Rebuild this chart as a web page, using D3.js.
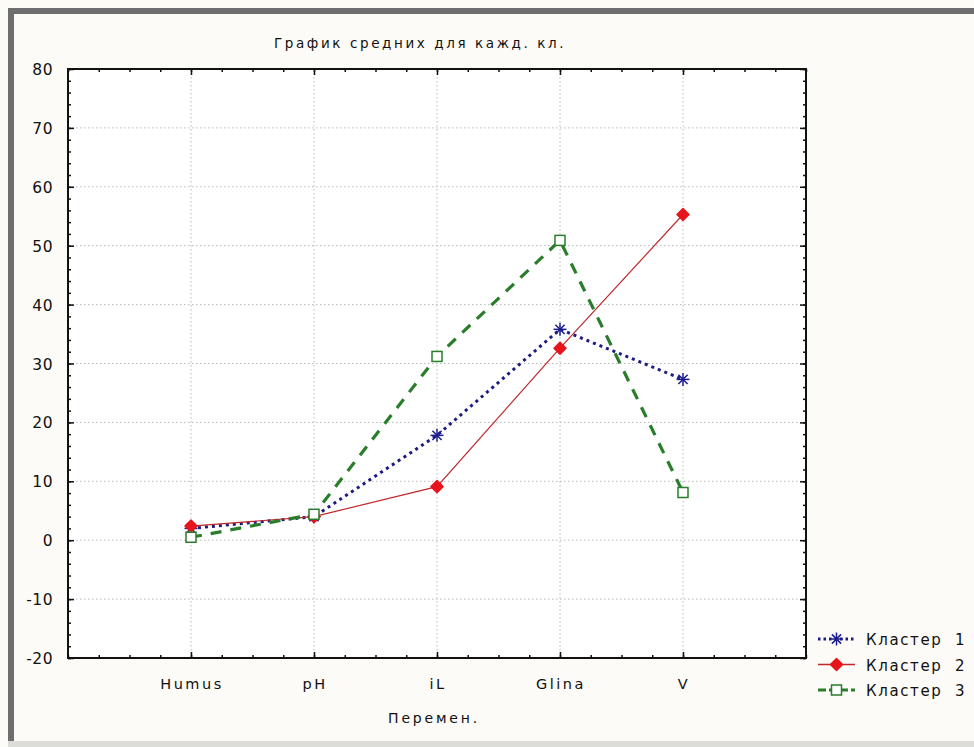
<!DOCTYPE html>
<html>
<head>
    <meta charset="utf-8">
    <title>График средних</title>
    <script src="https://d3js.org/d3.v7.min.js"></script>
    <style>
        body { margin: 0; background: #fcfbf7; }
        text { font-family: "DejaVu Sans", sans-serif; fill: #111; }
    </style>
</head>
<body>
    <div id="chart"></div>

    <script>
        // Values
        const variables = ["Humus", "pH", "iL", "Glina", "V"];
        const cluster1 = [2.0, 4.0, 17.8, 35.8, 27.3];
        const cluster2 = [2.4, 4.0, 9.1, 32.6, 55.3];
        const cluster3 = [0.5, 4.4, 31.2, 50.9, 8.1];
        const seriesNames = ["Кластер  1", "Кластер  2", "Кластер  3"];
        const yTicks = [-20, -10, 0, 10, 20, 30, 40, 50, 60, 70, 80];

        const width = 974, height = 747;
        const margin = {left: 68, top: 69, right: 168, bottom: 89};

        const svg = d3.select("#chart").append("svg")
            .attr("width", width)
            .attr("height", height);

        // window frame
        svg.append("rect").attr("x", 0).attr("y", 0).attr("width", width).attr("height", height)
            .attr("fill", "#fcfbf7");
        svg.append("rect").attr("x", 8).attr("y", 8).attr("width", width - 8).attr("height", 6)
            .attr("fill", "#6e6e6e");
        svg.append("rect").attr("x", 8).attr("y", 8).attr("width", 6).attr("height", height - 14)
            .attr("fill", "#6e6e6e");
        svg.append("rect").attr("x", 8).attr("y", 741).attr("width", width - 8).attr("height", 6)
            .attr("fill", "#dcdcd8");

        const x = d3.scaleLinear().domain([0, variables.length + 1])
            .range([margin.left, width - margin.right]);
        const y = d3.scaleLinear().domain([-20, 80])
            .range([height - margin.bottom, margin.top]);

        const plot = svg.append("g");
        plot.append("rect")
            .attr("x", x(0)).attr("y", y(80))
            .attr("width", x(6) - x(0)).attr("height", y(-20) - y(80))
            .attr("fill", "#fff");

        // grid
        plot.selectAll(".hgrid").data(yTicks.slice(1, -1)).join("line")
            .attr("x1", x(0)).attr("x2", x(6))
            .attr("y1", d => y(d)).attr("y2", d => y(d))
            .attr("stroke", "#b8b8b8").attr("stroke-dasharray", "1.5,2.5");
        plot.selectAll(".vgrid").data(variables).join("line")
            .attr("x1", (d, i) => x(i + 1)).attr("x2", (d, i) => x(i + 1))
            .attr("y1", y(80)).attr("y2", y(-20))
            .attr("stroke", "#b8b8b8").attr("stroke-dasharray", "1.5,2.5");

        // axes with inward ticks on all four sides
        const xMinor = d3.range(0, 6.01, 0.25);
        const yMinor = d3.range(-20, 80.01, 2);
        function ticks(axis, values, size, tr) {
            plot.append("g").attr("transform", tr)
                .call(axis.tickValues(values).tickSize(-size).tickFormat(""))
                .call(g => g.select(".domain").remove())
                .selectAll("line").attr("stroke", "#111").attr("stroke-width", 1.5);
        }
        ticks(d3.axisBottom(x), xMinor, 3, `translate(0,${y(-20)})`);
        ticks(d3.axisTop(x), xMinor, 3, `translate(0,${y(80)})`);
        ticks(d3.axisLeft(y), yMinor, 3, `translate(${x(0)},0)`);
        ticks(d3.axisRight(y), yMinor, 3, `translate(${x(6)},0)`);
        ticks(d3.axisBottom(x), [1, 2, 3, 4, 5], 6, `translate(0,${y(-20)})`);
        ticks(d3.axisTop(x), [1, 2, 3, 4, 5], 6, `translate(0,${y(80)})`);
        ticks(d3.axisLeft(y), yTicks, 6, `translate(${x(0)},0)`);
        ticks(d3.axisRight(y), yTicks, 6, `translate(${x(6)},0)`);

        plot.append("rect")
            .attr("x", x(0)).attr("y", y(80))
            .attr("width", x(6) - x(0)).attr("height", y(-20) - y(80))
            .attr("fill", "none").attr("stroke", "#111").attr("stroke-width", 2);

        // tick labels
        svg.selectAll(".ylab").data(yTicks).join("text")
            .attr("x", x(0) - 15).attr("y", d => y(d) + 6)
            .attr("text-anchor", "end")
            .style("font-size", "15.5px").style("letter-spacing", "0.5px")
            .text(d => d);
        svg.selectAll(".xlab").data(variables).join("text")
            .attr("x", (d, i) => x(i + 1) + 1).attr("y", y(-20) + 31)
            .attr("text-anchor", "middle")
            .style("font-size", "14.5px").style("letter-spacing", "2.5px")
            .text(d => d);

        svg.append("text")
            .attr("x", 420).attr("y", 48)
            .attr("text-anchor", "middle")
            .style("font-size", "13.5px").style("letter-spacing", "2.6px")
            .text("График средних для кажд. кл.");
        svg.append("text")
            .attr("x", 434).attr("y", 723)
            .attr("text-anchor", "middle")
            .style("font-size", "14px").style("letter-spacing", "2.8px")
            .text("Перемен.");

        // series
        const series = [
            {name: seriesNames[0], values: cluster1, color: "#1c1c80", width: 3, dash: "3,4", marker: "star"},
            {name: seriesNames[1], values: cluster2, color: "#c0282a", width: 1.2, dash: null, marker: "diamond"},
            {name: seriesNames[2], values: cluster3, color: "#2a7d2a", width: 3.2, dash: "11,9", marker: "square"}
        ];
        const line = d3.line().x((d, i) => x(i + 1)).y(d => y(d));

        function drawMarker(g, type, cx, cy) {
            if (type === "star") {
                const r = 6.5;
                const m = g.append("g").attr("transform", `translate(${cx},${cy})`)
                    .attr("stroke", "#1c1c90").attr("stroke-width", 1.5);
                [0, 45, 90, 135].forEach(a => {
                    const t = a * Math.PI / 180;
                    m.append("line").attr("x1", -r * Math.cos(t)).attr("y1", -r * Math.sin(t))
                        .attr("x2", r * Math.cos(t)).attr("y2", r * Math.sin(t));
                });
            } else if (type === "diamond") {
                const r = 6;
                g.append("path")
                    .attr("d", `M${cx},${cy - r}L${cx + r},${cy}L${cx},${cy + r}L${cx - r},${cy}Z`)
                    .attr("fill", "#e8141c").attr("stroke", "#e8141c")
                    .attr("stroke-width", 1.5).attr("stroke-linejoin", "round");
            } else {
                g.append("rect")
                    .attr("x", cx - 5).attr("y", cy - 5).attr("width", 10).attr("height", 10)
                    .attr("fill", "#fff").attr("stroke", "#2a7d2a").attr("stroke-width", 1.5);
            }
        }

        series.forEach(s => {
            plot.append("path").datum(s.values)
                .attr("d", line)
                .attr("fill", "none")
                .attr("stroke", s.color)
                .attr("stroke-width", s.width)
                .attr("stroke-dasharray", s.dash);
        });
        series.forEach(s => {
            s.values.forEach((v, i) => drawMarker(plot, s.marker, x(i + 1), y(v)));
        });

        // legend
        const legend = svg.append("g");
        series.forEach((s, i) => {
            const ly = 639 + i * 25.5;
            legend.append("line")
                .attr("x1", 818).attr("x2", 855).attr("y1", ly).attr("y2", ly)
                .attr("stroke", s.color).attr("stroke-width", s.marker === "diamond" ? 1.5 : 3)
                .attr("stroke-dasharray", s.marker === "star" ? "2.5,3" : (s.marker === "square" ? "8,3" : null));
            drawMarker(legend, s.marker, 836.5, ly);
            legend.append("text")
                .attr("x", 866).attr("y", ly + 6)
                .style("font-size", "15px").style("letter-spacing", "1.6px")
                .style("white-space", "pre")
                .text(s.name);
        });
    </script>
</body>
</html>
